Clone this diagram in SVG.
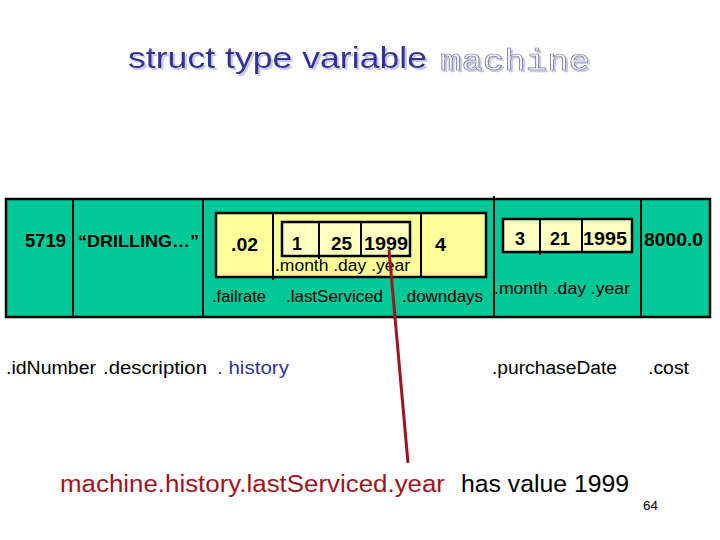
<svg xmlns="http://www.w3.org/2000/svg" width="720" height="540" viewBox="0 0 720 540">
<defs>
<filter id="sh" x="-5%" y="-30%" width="110%" height="160%">
<feDropShadow dx="2" dy="2" stdDeviation="0.6" flood-color="#c8c8e8" flood-opacity="1"/>
</filter>
</defs>
<style>
text{font-family:"Liberation Sans",Arial,sans-serif;fill:#000}
.b{font-weight:bold}
.box{stroke:#000;stroke-width:2.5}
.ln{stroke:#000;stroke-width:2}
.v{font-size:19px;font-weight:bold}
.lbl{font-size:16px}
.dl{font-size:18px}
</style>
<rect width="720" height="540" fill="#fff"/>
<g id="title">
<text x="128" y="68" font-size="29" textLength="299" lengthAdjust="spacingAndGlyphs" filter="url(#sh)" style="fill:#333399">struct type variable</text>
<text x="440" y="70" font-size="29" textLength="150" lengthAdjust="spacingAndGlyphs" filter="url(#sh)" style="font-family:'Liberation Mono',monospace;fill:#f4f4fa;stroke:#7a7a99;stroke-width:0.7">machine</text>
</g>
<g id="machine">
<rect x="6" y="199" width="704" height="118" fill="#00C896" class="box"/>
<line x1="73" y1="199" x2="73" y2="317" class="ln"/>
<line x1="203" y1="199" x2="203" y2="317" class="ln"/>
<line x1="494" y1="196" x2="494" y2="317" class="ln"/>
<line x1="641" y1="199" x2="641" y2="317" class="ln"/>
</g>
<g id="idNumber"><text x="25" y="247" class="v" textLength="41" lengthAdjust="spacingAndGlyphs" style="font-size:18px">5719</text></g>
<g id="description"><text x="78" y="247" class="b" textLength="121" lengthAdjust="spacingAndGlyphs" style="font-size:17px">“DRILLING…”</text></g>
<g id="history">
<rect x="216" y="213" width="270" height="64" fill="#FFFF99" class="box"/>
<line x1="273" y1="213" x2="273" y2="280" class="ln"/>
<line x1="421" y1="213" x2="421" y2="277" class="ln"/>
<text x="231" y="251" class="v" textLength="27" lengthAdjust="spacingAndGlyphs">.02</text>
<text x="435" y="251" class="v" textLength="11" lengthAdjust="spacingAndGlyphs">4</text>
<text x="212" y="302" class="lbl" textLength="54" lengthAdjust="spacingAndGlyphs">.failrate</text>
<text x="286" y="302" class="lbl" textLength="97" lengthAdjust="spacingAndGlyphs">.lastServiced</text>
<text x="402" y="302" class="lbl" textLength="81" lengthAdjust="spacingAndGlyphs">.downdays</text>
</g>
<g id="lastServiced">
<rect x="282" y="222" width="128" height="34" fill="#FFFFC0" class="box"/>
<line x1="319" y1="222" x2="319" y2="259" class="ln"/>
<line x1="361" y1="222" x2="361" y2="256" class="ln"/>
<text x="292" y="250" class="v" textLength="10" lengthAdjust="spacingAndGlyphs">1</text>
<text x="331" y="250" class="v" textLength="21" lengthAdjust="spacingAndGlyphs">25</text>
<text x="364" y="250" class="v" textLength="44" lengthAdjust="spacingAndGlyphs">1999</text>
<text x="275" y="271" class="lbl" textLength="135" lengthAdjust="spacingAndGlyphs">.month .day  .year</text>
</g>
<g id="purchaseDate">
<rect x="503" y="219" width="129" height="33" fill="#FFFFC0" class="box"/>
<line x1="540" y1="219" x2="540" y2="255" class="ln"/>
<line x1="582" y1="219" x2="582" y2="252" class="ln"/>
<text x="515" y="245" class="v" textLength="10" lengthAdjust="spacingAndGlyphs">3</text>
<text x="550" y="245" class="v" textLength="20" lengthAdjust="spacingAndGlyphs">21</text>
<text x="583" y="245" class="v" textLength="44" lengthAdjust="spacingAndGlyphs">1995</text>
<text x="494" y="294" class="lbl" textLength="136" lengthAdjust="spacingAndGlyphs">.month .day  .year</text>
</g>
<g id="cost"><text x="644" y="246" class="v" textLength="59" lengthAdjust="spacingAndGlyphs">8000.0</text></g>
<g id="labels">
<text x="6" y="374" class="dl" textLength="90" lengthAdjust="spacingAndGlyphs">.idNumber</text>
<text x="103" y="374" class="dl" textLength="104" lengthAdjust="spacingAndGlyphs">.description</text>
<text x="217" y="374" class="dl" textLength="72" lengthAdjust="spacingAndGlyphs" style="fill:#333399">. history</text>
<text x="492" y="374" class="dl" textLength="125" lengthAdjust="spacingAndGlyphs">.purchaseDate</text>
<text x="648" y="374" class="dl" textLength="41" lengthAdjust="spacingAndGlyphs">.cost</text>
</g>
<g id="connectors">
<line x1="389" y1="250" x2="408" y2="463" stroke="#A0141E" stroke-width="3"/>
</g>
<g id="caption">
<text x="60" y="492" font-size="23" textLength="385" lengthAdjust="spacingAndGlyphs" style="fill:#A0141E">machine.history.lastServiced.year</text>
<text x="461" y="492" font-size="23" textLength="168" lengthAdjust="spacingAndGlyphs">has value 1999</text>
<text x="643" y="510" font-size="12" textLength="15" lengthAdjust="spacingAndGlyphs">64</text>
</g>
</svg>
